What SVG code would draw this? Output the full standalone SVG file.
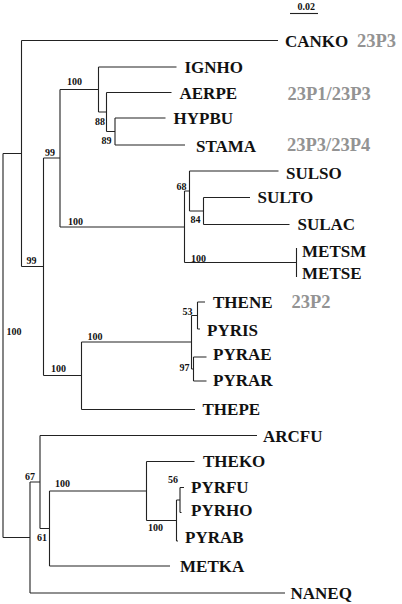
<svg xmlns="http://www.w3.org/2000/svg" width="402" height="604" viewBox="0 0 402 604">
<style>
.br{fill:none;stroke:#222;stroke-width:1.1}
.tx{font-family:"Liberation Serif","Times New Roman",serif;font-weight:bold;font-size:17px;fill:#111}
.bs{font-family:"Liberation Serif","Times New Roman",serif;font-weight:bold;font-size:10px;fill:#111}
.gr{font-family:"Liberation Serif","Times New Roman",serif;font-weight:bold;font-size:18.5px;fill:#939393}
</style>
<rect width="402" height="604" fill="#fff"/>
<g id="scale">
<text class="bs" x="297.5" y="10" font-size="10.5">0.02</text>
<path class="br" d="M290,13.5H318"/>
</g>
<g id="connectors">
<path class="br" d="M3,153.5V537.5 M3,153.5H21.5 M21.5,40.5V266.5 M21.5,40.5H278"/>
<path class="br" d="M21.5,266.5H43.5 M43.5,158V375.5 M43.5,158H60 M60,89.5V227"/>
<path class="br" d="M60,89.5H98.5 M98.5,67V112 M98.5,67H176.5 M98.5,112H106.5 M106.5,92.5V131.5 M106.5,92.5H171.5 M106.5,131.5H115 M115,118V145 M115,118H165.5 M115,145H185"/>
<path class="br" d="M60,227H184.5 M184.5,191V262.5 M184.5,191H189.5 M189.5,171V211 M189.5,171H278.5 M189.5,211H203.5 M203.5,197.5V224.5 M203.5,197.5H250 M203.5,224.5H289.5 M184.5,262.5H296.5 M296.5,248V277"/>
<path class="br" d="M43.5,375.5H81.5 M81.5,342V409.5 M81.5,409.5H195 M81.5,342H191.5 M191.5,315.5V369 M191.5,315.5H197.5 M197.5,302V329 M197.5,302H205 M197.5,329H200 M191.5,369H193.5 M193.5,357V381 M193.5,357H206.5 M193.5,381H206.5"/>
<path class="br" d="M3,537.5H30 M30,482V593 M30,593H285 M30,482H40 M40,435.5V528.5 M40,435.5H257 M40,528.5H49.5 M49.5,491V566 M49.5,566H170"/>
<path class="br" d="M49.5,491H146.5 M146.5,461.5V520.5 M146.5,461.5H194.5 M146.5,520.5H176.5 M176.5,500V541 M176.5,541H178 M176.5,500H180 M180,487.5V512.5 M180,487.5H184 M180,512.5H181.5"/>
</g>
<g id="support">
<text class="bs" x="67" y="85">100</text>
<text class="bs" x="95" y="125">88</text>
<text class="bs" x="101.5" y="144">89</text>
<text class="bs" x="45" y="156">99</text>
<text class="bs" x="176.5" y="190">68</text>
<text class="bs" x="190.5" y="223">84</text>
<text class="bs" x="68" y="225">100</text>
<text class="bs" x="191" y="261.5">100</text>
<text class="bs" x="26.5" y="263.5">99</text>
<text class="bs" x="6.5" y="335">100</text>
<text class="bs" x="182.5" y="315">53</text>
<text class="bs" x="87.5" y="340">100</text>
<text class="bs" x="179.5" y="371">97</text>
<text class="bs" x="51" y="372">100</text>
<text class="bs" x="25" y="480">67</text>
<text class="bs" x="55" y="487">100</text>
<text class="bs" x="168" y="483">56</text>
<text class="bs" x="148" y="531">100</text>
<text class="bs" x="37" y="541">61</text>
</g>
<g id="CANKO"><text class="tx" x="285" y="46.5">CANKO</text><text class="gr" x="357" y="46.5">23P3</text></g>
<g id="IGNHO"><text class="tx" x="184.5" y="72.5">IGNHO</text></g>
<g id="AERPE"><text class="tx" x="179.5" y="99">AERPE</text><text class="gr" x="287.5" y="100">23P1/23P3</text></g>
<g id="HYPBU"><text class="tx" x="173.5" y="123.5">HYPBU</text></g>
<g id="STAMA"><text class="tx" x="196" y="151.5">STAMA</text><text class="gr" x="287" y="151">23P3/23P4</text></g>
<g id="SULSO"><text class="tx" x="286" y="178.5">SULSO</text></g>
<g id="SULTO"><text class="tx" x="257.5" y="202.5">SULTO</text></g>
<g id="SULAC"><text class="tx" x="297.5" y="229.5">SULAC</text></g>
<g id="METSM"><text class="tx" x="302" y="256.5">METSM</text></g>
<g id="METSE"><text class="tx" x="302" y="279">METSE</text></g>
<g id="THENE"><text class="tx" x="213" y="308">THENE</text><text class="gr" x="291.5" y="308">23P2</text></g>
<g id="PYRIS"><text class="tx" x="207" y="336">PYRIS</text></g>
<g id="PYRAE"><text class="tx" x="213" y="360">PYRAE</text></g>
<g id="PYRAR"><text class="tx" x="213" y="386">PYRAR</text></g>
<g id="THEPE"><text class="tx" x="202.5" y="414.5">THEPE</text></g>
<g id="ARCFU"><text class="tx" x="263" y="442">ARCFU</text></g>
<g id="THEKO"><text class="tx" x="203" y="466.5">THEKO</text></g>
<g id="PYRFU"><text class="tx" x="191" y="493">PYRFU</text></g>
<g id="PYRHO"><text class="tx" x="191" y="515.5">PYRHO</text></g>
<g id="PYRAB"><text class="tx" x="185" y="543">PYRAB</text></g>
<g id="METKA"><text class="tx" x="180" y="571.5">METKA</text></g>
<g id="NANEQ"><text class="tx" x="290.5" y="598.5">NANEQ</text></g>
</svg>
